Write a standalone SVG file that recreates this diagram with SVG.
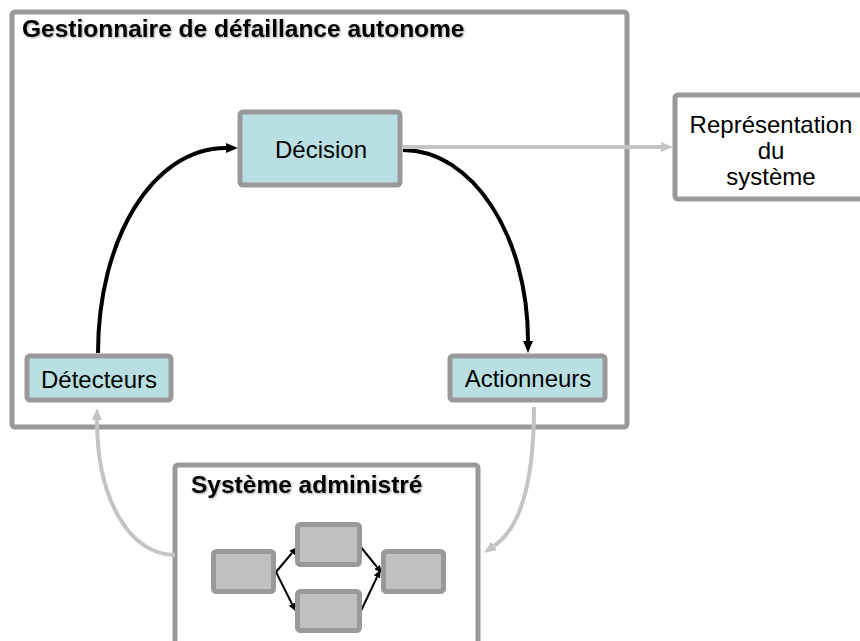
<svg xmlns="http://www.w3.org/2000/svg" width="860" height="641" viewBox="0 0 860 641">
  <defs>
    <style>
      .frame { fill: #ffffff; stroke: #999999; stroke-width: 5; }
      .node { fill: #b9dfe3; stroke: #999999; stroke-width: 5; }
      .part { fill: #c0c0c0; stroke: #999999; stroke-width: 5; }
      .label { font-family: "Liberation Sans", Arial, sans-serif; font-size: 24px; fill: #000000; text-anchor: middle; }
      .title { font-family: "Liberation Sans", Arial, sans-serif; font-size: 24.5px; font-weight: bold; fill: #000000; filter: url(#shadow); }
      .flow { fill: none; stroke: #000000; stroke-width: 4; }
      .feed { fill: none; stroke: #c4c4c4; stroke-width: 4; }
      .link { fill: none; stroke: #000000; stroke-width: 2; }
    </style>
    <filter id="shadow" x="-5%" y="-30%" width="110%" height="160%">
      <feDropShadow dx="1" dy="1" stdDeviation="0.8" flood-color="#000000" flood-opacity="0.35"/>
    </filter>
    <marker id="headBlack" viewBox="0 0 12 10" refX="0" refY="5" markerWidth="12" markerHeight="10" markerUnits="userSpaceOnUse" orient="auto">
      <path d="M0,0 L12,5 L0,10 Z" fill="#000000"/>
    </marker>
    <marker id="headGrey" viewBox="0 0 12 10" refX="0" refY="5" markerWidth="12" markerHeight="10" markerUnits="userSpaceOnUse" orient="auto">
      <path d="M0,0 L12,5 L0,10 Z" fill="#c4c4c4"/>
    </marker>
    <marker id="headSmall" viewBox="0 0 8 7" refX="0" refY="3.5" markerWidth="8" markerHeight="7" markerUnits="userSpaceOnUse" orient="auto">
      <path d="M0,0 L8,3.5 L0,7 Z" fill="#000000"/>
    </marker>
  </defs>

  <rect width="860" height="641" fill="#ffffff"/>

  <!-- Containers -->
  <g id="gestionnaire">
    <rect class="frame" x="12" y="12" width="615" height="415" rx="3"/>
    <text class="title" x="22" y="37">Gestionnaire de défaillance autonome</text>
  </g>

  <g id="systeme-administre">
    <rect class="frame" x="175" y="465" width="303" height="200" rx="3"/>
    <text class="title" x="191" y="493">Système administré</text>
  </g>

  <g id="representation">
    <rect class="frame" x="675" y="95" width="200" height="104" rx="3"/>
    <text class="label" x="771" y="133">Représentation</text>
    <text class="label" x="771" y="159">du</text>
    <text class="label" x="771" y="185">système</text>
  </g>

  <!-- Connectors -->
  <g id="connectors">
    <path class="flow" d="M98,353 C98,240 152,148 226,148" marker-end="url(#headBlack)"/>
    <path class="flow" d="M403,150 C472,150 528,235 528,341" marker-end="url(#headBlack)"/>
    <path class="feed" d="M403,147 L661,147" marker-end="url(#headGrey)"/>
    <path class="feed" d="M175,555 C130,555 97,500 97,420" marker-end="url(#headGrey)"/>
    <path class="feed" d="M534,407 C534,470 525,525 494,546" marker-end="url(#headGrey)"/>
    <path class="link" d="M276,572 L292,553" marker-end="url(#headSmall)"/>
    <path class="link" d="M276,572 L292,604" marker-end="url(#headSmall)"/>
    <path class="link" d="M360,546 L377,567" marker-end="url(#headSmall)"/>
    <path class="link" d="M360,613 L377,577" marker-end="url(#headSmall)"/>
  </g>

  <!-- Nodes -->
  <g id="decision">
    <rect class="node" x="240" y="112" width="160" height="73" rx="3"/>
    <text class="label" x="321" y="158">Décision</text>
  </g>

  <g id="detecteurs">
    <rect class="node" x="27" y="356" width="144" height="44" rx="3"/>
    <text class="label" x="99" y="388">Détecteurs</text>
  </g>

  <g id="actionneurs">
    <rect class="node" x="450" y="356" width="155" height="44" rx="3"/>
    <text class="label" x="528" y="387">Actionneurs</text>
  </g>

  <g id="composant-1">
    <rect class="part" x="213.5" y="551.5" width="60" height="40" rx="3"/>
  </g>
  <g id="composant-2">
    <rect class="part" x="297.5" y="524.5" width="62" height="40" rx="3"/>
  </g>
  <g id="composant-3">
    <rect class="part" x="297.5" y="591.5" width="62" height="39" rx="3"/>
  </g>
  <g id="composant-4">
    <rect class="part" x="383.5" y="551.5" width="60" height="40" rx="3"/>
  </g>
</svg>
